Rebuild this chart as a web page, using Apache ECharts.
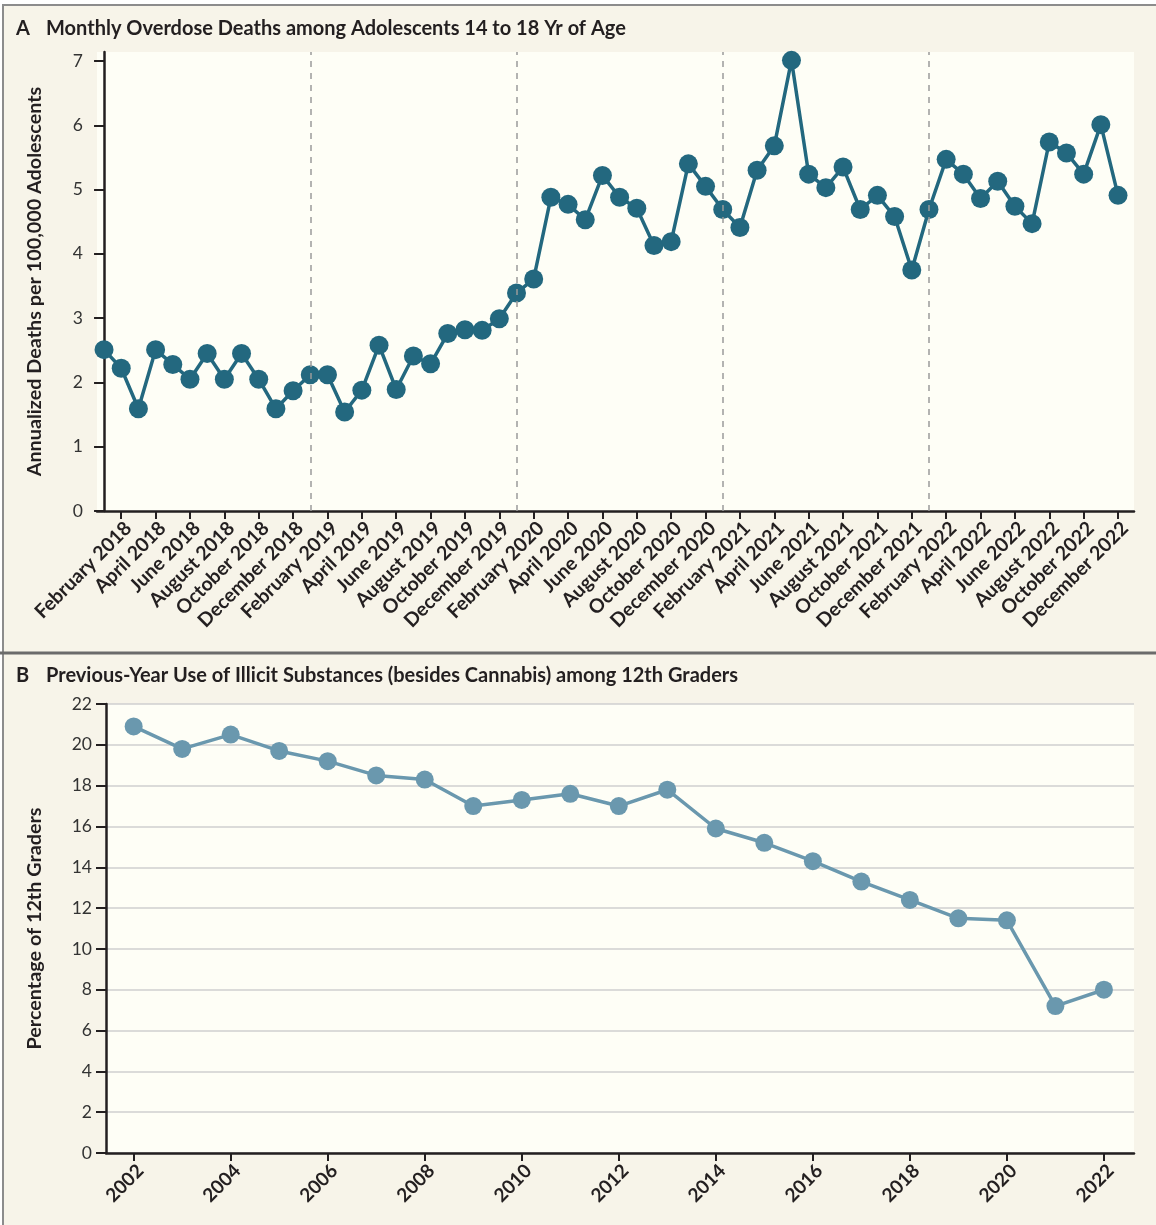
<!DOCTYPE html>
<html>
<head>
<meta charset="utf-8">
<script src="https://cdn.jsdelivr.net/npm/echarts@6/dist/echarts.min.js"></script>
<style>
html,body{margin:0;padding:0;background:#ffffff;}
#chart{width:1156px;height:1225px;}
</style>
</head>
<body>
<div id="chart"></div>
<script>
// ---------- Panel A data (monthly, January 2018 .. December 2022) ----------
const monthNames = ['January','February','March','April','May','June','July','August','September','October','November','December'];
const yearsA = [2018, 2019, 2020, 2021, 2022];
const deathRates = [
  2.51, 2.22, 1.59, 2.51, 2.28, 2.05, 2.45, 2.05, 2.45, 2.05, 1.59, 1.87,
  2.12, 2.12, 1.54, 1.88, 2.58, 1.89, 2.41, 2.29, 2.76, 2.82, 2.81, 2.99,
  3.39, 3.61, 4.88, 4.77, 4.53, 5.22, 4.88, 4.71, 4.13, 4.19, 5.40, 5.05,
  4.69, 4.41, 5.30, 5.68, 7.01, 5.24, 5.03, 5.35, 4.69, 4.91, 4.58, 3.75,
  4.69, 5.47, 5.24, 4.86, 5.13, 4.74, 4.47, 5.74, 5.57, 5.24, 6.01, 4.91
];
const yTicksA = [0, 1, 2, 3, 4, 5, 6, 7];

// ---------- Panel B data (annual, 2002 .. 2022) ----------
const surveyYears = [2002,2003,2004,2005,2006,2007,2008,2009,2010,2011,2012,2013,2014,2015,2016,2017,2018,2019,2020,2021,2022];
const illicitUse = [20.9, 19.8, 20.5, 19.7, 19.2, 18.5, 18.3, 17.0, 17.3, 17.6, 17.0, 17.8, 15.9, 15.2, 14.3, 13.3, 12.4, 11.5, 11.4, 7.2, 8.0];
const xTicksB = [2002,2004,2006,2008,2010,2012,2014,2016,2018,2020,2022];
const yTicksB = [0,2,4,6,8,10,12,14,16,18,20,22];

// month labels built from names + years
const monthLabels = [];
yearsA.forEach(y => monthNames.forEach(m => monthLabels.push(m + ' ' + y)));
const monthIdx = monthLabels.map((_, i) => i);
const tickIdxA = monthIdx.filter(i => i % 2 === 1);           // February, April, ...
const januaryIdx = monthIdx.filter(i => i % 12 === 0 && i > 0); // year boundaries

const FONT = 'Lato';
const DARK = '#231f20';
const colA = '#23687f';
const colB = '#6a98ae';
const plotBg = '#fefef6';
const panelBg = '#f7f4e9';

const chart = echarts.init(document.getElementById('chart'), null, {renderer: 'canvas'});

const titleStyle = {fontFamily: FONT, fontSize: 20, fontWeight: 'bold', color: DARK};

const option = {
  backgroundColor: '#ffffff',
  animation: false,
  textStyle: {fontFamily: FONT},
  graphic: [
    {type: 'rect', z: -10, shape: {x: 3, y: 5, width: 1170, height: 1240},
     style: {fill: panelBg, stroke: '#8c8c8c', lineWidth: 2}},
    {type: 'line', z: -5, shape: {x1: 0, y1: 653, x2: 1156, y2: 653},
     style: {stroke: '#6b6b6b', lineWidth: 3}}
  ],
  title: [
    {left: 16, top: 19, padding: 0, text: 'A', textStyle: titleStyle},
    {left: 46, top: 19, padding: 0, text: 'Monthly Overdose Deaths among Adolescents 14 to 18 Yr of Age', textStyle: titleStyle},
    {left: 16, top: 666, padding: 0, text: 'B', textStyle: titleStyle},
    {left: 46, top: 666, padding: 0, text: 'Previous-Year Use of Illicit Substances (besides Cannabis) among 12th Graders', textStyle: titleStyle}
  ],
  grid: [
    {left: 97, top: 52, width: 1037, height: 459, show: true, backgroundColor: plotBg, borderWidth: 0},
    {left: 106, top: 704, width: 1028, height: 449, show: true, backgroundColor: plotBg, borderWidth: 0}
  ],
  xAxis: [
    {
      gridIndex: 0, type: 'value', min: -0.41, max: 59.93,
      axisLine: {show: true, onZero: false, lineStyle: {color: DARK, width: 2.5}},
      axisTick: {show: true, customValues: tickIdxA, length: 8, lineStyle: {color: DARK, width: 2}},
      axisLabel: {show: true, customValues: tickIdxA, rotate: 45, margin: 7, verticalAlign: 'top',
        formatter: v => monthLabels[Math.round(v)],
        fontFamily: FONT, fontSize: 19.5, fontWeight: 'bold', color: DARK},
      splitLine: {show: false}
    },
    {
      gridIndex: 1, type: 'value', min: 2001.43, max: 2022.62,
      axisLine: {show: true, onZero: false, lineStyle: {color: DARK, width: 2.5}},
      axisTick: {show: true, customValues: xTicksB, length: 8, lineStyle: {color: DARK, width: 2}},
      axisLabel: {show: true, customValues: xTicksB, rotate: 45, margin: 8, verticalAlign: 'top',
        formatter: v => String(v),
        fontFamily: FONT, fontSize: 19, fontWeight: 'bold', color: DARK},
      splitLine: {show: false}
    }
  ],
  yAxis: [
    {
      gridIndex: 0, type: 'value', min: 0, max: 7.14,
      name: 'Annualized Deaths per 100,000 Adolescents', nameLocation: 'middle', nameGap: 52,
      nameTextStyle: {fontFamily: FONT, fontSize: 19.8, fontWeight: 'bold', color: DARK},
      axisLine: {show: true, lineStyle: {color: DARK, width: 2.5}},
      axisTick: {show: true, customValues: yTicksA, length: 10, lineStyle: {color: DARK, width: 2}},
      axisLabel: {show: true, customValues: yTicksA, margin: 14, fontFamily: FONT, fontSize: 17.5, color: '#333'},
      splitLine: {show: false}
    },
    {
      gridIndex: 1, type: 'value', min: 0, max: 22, interval: 2,
      name: 'Percentage of 12th Graders', nameLocation: 'middle', nameGap: 61,
      nameTextStyle: {fontFamily: FONT, fontSize: 19.8, fontWeight: 'bold', color: DARK},
      axisLine: {show: true, lineStyle: {color: DARK, width: 2.5}},
      axisTick: {show: true, customValues: yTicksB, length: 10, lineStyle: {color: DARK, width: 2}},
      axisLabel: {show: true, customValues: yTicksB, margin: 14, fontFamily: FONT, fontSize: 17.5, color: '#333'},
      splitLine: {show: true, lineStyle: {color: '#cfcfcf', width: 1.5}}
    }
  ],
  series: [
    {
      type: 'line', xAxisIndex: 0, yAxisIndex: 0, z: 1, data: [],
      markLine: {
        silent: true, symbol: ['none', 'none'], label: {show: false},
        lineStyle: {color: '#9a9a9a', width: 1.5, type: [6, 6]},
        data: januaryIdx.map(i => ({xAxis: i}))
      }
    },
    {
      type: 'line', xAxisIndex: 0, yAxisIndex: 0, z: 3,
      data: deathRates.map((v, i) => [monthIdx[i], v]),
      symbol: 'circle', symbolSize: 19,
      lineStyle: {color: colA, width: 3.5},
      itemStyle: {color: colA, borderWidth: 0}
    },
    {
      type: 'line', xAxisIndex: 1, yAxisIndex: 1, z: 3,
      data: illicitUse.map((v, i) => [surveyYears[i], v]),
      symbol: 'circle', symbolSize: 18,
      lineStyle: {color: colB, width: 3.5},
      itemStyle: {color: colB, borderWidth: 0}
    }
  ]
};
chart.setOption(option);
</script>
</body>
</html>
